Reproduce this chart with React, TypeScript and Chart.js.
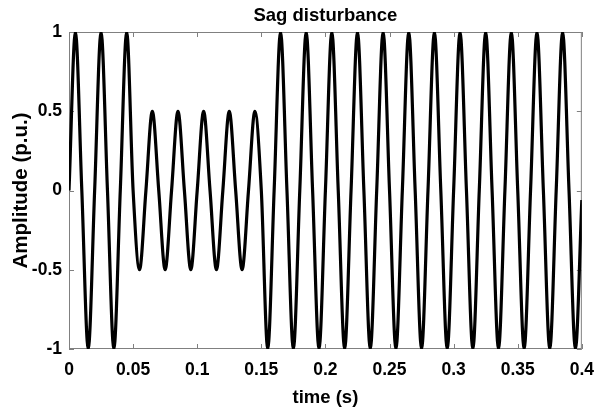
import React, { useEffect, useRef } from "react";
import { Chart, registerables } from "chart.js";

Chart.register(...registerables);

// ---- data ----
const preSagTime = [0, 0.005, 0.01, 0.015, 0.02, 0.025, 0.03, 0.035, 0.04, 0.045, 0.05];
const preSagAmp = [0, 1, 0, -1, 0, 1, 0, -1, 0, 1, 0];

const sagTime = [
  0.055, 0.06, 0.065, 0.07, 0.075, 0.08, 0.085, 0.09, 0.095, 0.1,
  0.105, 0.11, 0.115, 0.12, 0.125, 0.13, 0.135, 0.14, 0.145, 0.15,
];
const sagAmp = [
  -0.5, 0, 0.5, 0, -0.5, 0, 0.5, 0, -0.5, 0,
  0.5, 0, -0.5, 0, 0.5, 0, -0.5, 0, 0.5, 0,
];

const postSagTime = [
  0.155, 0.16, 0.165, 0.17, 0.175, 0.18, 0.185, 0.19, 0.195, 0.2,
  0.205, 0.21, 0.215, 0.22, 0.225, 0.23, 0.235, 0.24, 0.245, 0.25,
  0.255, 0.26, 0.265, 0.27, 0.275, 0.28, 0.285, 0.29, 0.295, 0.3,
  0.305, 0.31, 0.315, 0.32, 0.325, 0.33, 0.335, 0.34, 0.345, 0.35,
  0.355, 0.36, 0.365, 0.37, 0.375, 0.38, 0.385, 0.39, 0.395, 0.4,
];
const postSagAmp = [
  -1, 0, 1, 0, -1, 0, 1, 0, -1, 0,
  1, 0, -1, 0, 1, 0, -1, 0, 1, 0,
  -1, 0, 1, 0, -1, 0, 1, 0, -1, 0,
  1, 0, -1, 0, 1, 0, -1, 0, 1, 0,
  -1, 0, 1, 0, -1, 0, 1, 0, -1, -0.06,
];

const xTickValues = [0, 0.05, 0.1, 0.15, 0.2, 0.25, 0.3, 0.35, 0.4];
const yTickValues = [-1, -0.5, 0, 0.5, 1];

const chartTitle = "Sag disturbance";
const xTitle = "time (s)";
const yTitle = "Amplitude (p.u.)";

const FONT = "'Liberation Sans', Arial, Helvetica, sans-serif";

const fmt = (v: number) => String(Number(Number(v).toFixed(3)));

const boxPlugin = {
  id: "matlabBox",
  beforeDatasetsDraw(chart: any) {
    const { ctx, chartArea } = chart;
    const { left, right, top, bottom } = chartArea;
    const xs = chart.scales.x;
    const ys = chart.scales.y;
    const tl = 5;
    ctx.save();
    ctx.strokeStyle = "#808080";
    ctx.lineWidth = 1;
    ctx.strokeRect(left + 0.5, top + 0.5, right - left - 1, bottom - top - 1);
    ctx.beginPath();
    xTickValues.forEach((v) => {
      const px = Math.round(xs.getPixelForValue(v)) + 0.5;
      ctx.moveTo(px, bottom);
      ctx.lineTo(px, bottom - tl);
      ctx.moveTo(px, top);
      ctx.lineTo(px, top + tl);
    });
    yTickValues.forEach((v) => {
      const py = Math.round(ys.getPixelForValue(v)) + 0.5;
      ctx.moveTo(left, py);
      ctx.lineTo(left + tl, py);
      ctx.moveTo(right, py);
      ctx.lineTo(right - tl, py);
    });
    ctx.stroke();
    ctx.restore();
  },
};

export default function App() {
  const ref = useRef<HTMLCanvasElement | null>(null);

  useEffect(() => {
    if (!ref.current) return;
    const times = [...preSagTime, ...sagTime, ...postSagTime];
    const amps = [...preSagAmp, ...sagAmp, ...postSagAmp];
    const data = times.map((t, i) => ({ x: t, y: amps[i] }));

    const chart = new Chart(ref.current, {
      type: "line",
      data: {
        datasets: [
          {
            data,
            borderColor: "#000000",
            borderWidth: 3.2,
            pointRadius: 0,
            cubicInterpolationMode: "monotone",
            fill: false,
          },
        ],
      },
      options: {
        animation: false,
        responsive: false,
        maintainAspectRatio: false,
        layout: { padding: { left: 0, right: 21, top: 0, bottom: 0 } },
        plugins: {
          legend: { display: false },
          tooltip: { enabled: false },
          title: {
            display: true,
            text: chartTitle,
            fullSize: false,
            color: "#000",
            font: { family: FONT, size: 18.5, weight: "bold" },
            padding: { top: 5, bottom: 4.8 },
          },
        },
        scales: {
          x: {
            type: "linear",
            min: 0,
            max: 0.4,
            afterBuildTicks: (s: any) => {
              s.ticks = xTickValues.map((v) => ({ value: v }));
            },
            afterFit: (s: any) => {
              s.height = 65;
            },
            grid: { display: false, drawTicks: false },
            border: { display: false },
            ticks: {
              color: "#000",
              font: { family: FONT, size: 17.5, weight: "bold" },
              padding: 11,
              maxRotation: 0,
              autoSkip: false,
              callback: (v: any) => fmt(v),
            },
            title: {
              display: true,
              text: xTitle,
              color: "#000",
              font: { family: FONT, size: 18.5, weight: "bold" },
              padding: { top: 0, bottom: 5 },
            },
          },
          y: {
            type: "linear",
            min: -1,
            max: 1,
            afterBuildTicks: (s: any) => {
              s.ticks = yTickValues.map((v) => ({ value: v }));
            },
            afterFit: (s: any) => {
              s.width = 69;
            },
            grid: { display: false, drawTicks: false },
            border: { display: false },
            ticks: {
              color: "#000",
              font: { family: FONT, size: 17.5, weight: "bold" },
              padding: 7,
              autoSkip: false,
              callback: (v: any) => fmt(v),
            },
            title: {
              display: true,
              text: yTitle,
              color: "#000",
              font: { family: FONT, size: 20.5, weight: "bold" },
              padding: { top: 9, bottom: 0 },
            },
          },
        },
      },
      plugins: [boxPlugin],
    });
    return () => chart.destroy();
  }, []);

  return (
    <div style={{ position: "fixed", left: 0, top: 0, width: 605, height: 414, background: "#fff" }}>
      <canvas ref={ref} width={605} height={414} style={{ display: "block" }} />
    </div>
  );
}
